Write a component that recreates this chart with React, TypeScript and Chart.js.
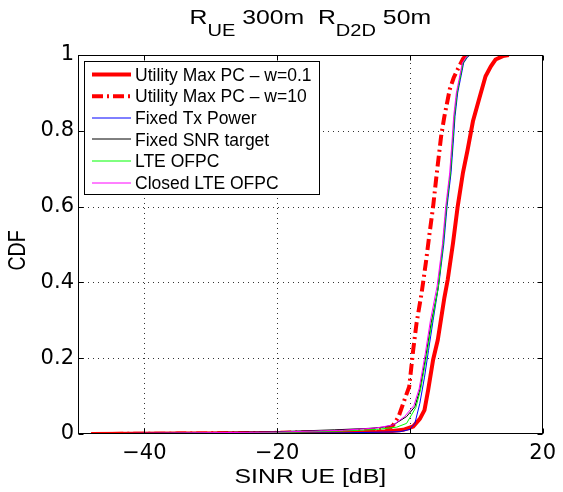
import React, { useEffect, useRef } from 'react';
import { Chart, registerables } from 'chart.js';

Chart.register(...registerables);

// ---------- data ----------
const xTickValues = [-40, -20, 0, 20];
const yTickValues = [0, 0.2, 0.4, 0.6, 0.8, 1];

const seriesLabels = [
  'Utility Max PC \u2013 w=0.1',
  'Utility Max PC \u2013 w=10',
  'Fixed Tx Power',
  'Fixed SNR target',
  'LTE OFPC',
  'Closed LTE OFPC',
];

const sinrUtilW01 = [-48, -35, -20, -10, -5, -3, -1, 0.5, 1.5, 2.2, 2.75, 3.5, 4.2, 5.2, 5.7, 6.5, 7.2, 8.0, 8.7, 9.5, 10.4, 11.4, 12.2, 12.9, 14.0, 14.9];
const cdfUtilW01 = [0, 0.001, 0.002, 0.003, 0.005, 0.007, 0.011, 0.02, 0.04, 0.063, 0.116, 0.196, 0.248, 0.36, 0.407, 0.504, 0.6, 0.69, 0.75, 0.825, 0.882, 0.944, 0.97, 0.988, 0.997, 1];

const sinrUtilW10 = [-48, -35, -20, -10, -5, -3, -2.5, -1.7, -1.0, -0.1, 0.5, 1.0, 1.75, 2.4, 2.9, 3.5, 4.0, 4.7, 5.2, 6.0, 6.6, 7.2, 8.0, 8.5];
const cdfUtilW10 = [0, 0.001, 0.003, 0.006, 0.01, 0.016, 0.024, 0.046, 0.081, 0.125, 0.222, 0.292, 0.37, 0.451, 0.521, 0.6, 0.68, 0.785, 0.838, 0.909, 0.94, 0.962, 0.99, 1];

const sinrFixedTx = [-50, -35, -20, -10, -4, -1.5, 0, 0.75, 1.5, 2.2, 2.8, 3.5, 4.4, 5.1, 5.6, 6.2, 6.6, 6.8, 7.2, 7.6, 8.1, 8.7, 9.1];
const cdfFixedTx = [0, 0.001, 0.002, 0.003, 0.005, 0.006, 0.012, 0.028, 0.081, 0.15, 0.22, 0.3, 0.4, 0.5, 0.6, 0.689, 0.785, 0.838, 0.9, 0.935, 0.979, 0.995, 1];

const sinrFixedSnr = [-50, -40, -30, -20, -11.4, -6, -4, -2.5, -0.5, 0.75, 1.5, 2.4, 3.2, 4.2, 5.0, 5.5, 6.1, 6.5, 6.7, 7.1, 7.5, 8.0, 8.6, 9.0];
const cdfFixedSnr = [0, 0.002, 0.004, 0.006, 0.011, 0.015, 0.018, 0.024, 0.046, 0.072, 0.116, 0.204, 0.292, 0.38, 0.504, 0.6, 0.689, 0.785, 0.838, 0.9, 0.935, 0.979, 0.995, 1];

const sinrLteOfpc = [-50, -40, -20, -10, -5, -2, -0.5, 0.9, 1.6, 2.5, 3.3, 4.3, 5.0, 5.5, 6.1, 6.5, 6.7, 7.1, 7.5, 8.0, 8.6, 9.0];
const cdfLteOfpc = [0, 0.001, 0.004, 0.008, 0.012, 0.018, 0.028, 0.07, 0.116, 0.204, 0.292, 0.39, 0.5, 0.6, 0.689, 0.785, 0.838, 0.9, 0.935, 0.979, 0.995, 1];

const sinrClosedOfpc = [-50, -40, -20, -10, -5, -2.5, -0.8, 0.6, 1.4, 2.3, 3.1, 4.1, 4.9, 5.4, 6.0, 6.4, 6.6, 7.0, 7.4, 7.9, 8.5, 8.9];
const cdfClosedOfpc = [0, 0.002, 0.005, 0.01, 0.016, 0.024, 0.046, 0.075, 0.12, 0.21, 0.3, 0.39, 0.5, 0.6, 0.689, 0.785, 0.838, 0.9, 0.935, 0.979, 0.995, 1];

// ---------- styling ----------
const STRETCH = 1.18;
const ARIAL = '"Liberation Sans", Arial, sans-serif';

const toPoints = (xs: number[], ys: number[]) => xs.map((x, i) => ({ x, y: ys[i] }));

const seriesStyles = [
  { color: '#ff0000', width: 4, dash: [] as number[] },
  { color: '#ff0000', width: 4, dash: [11, 4, 2, 4] },
  { color: '#0000ff', width: 1, dash: [] as number[] },
  { color: '#000000', width: 1, dash: [] as number[] },
  { color: '#00ff00', width: 1, dash: [] as number[] },
  { color: '#ff00ff', width: 1, dash: [] as number[] },
];

const seriesData = [
  toPoints(sinrUtilW01, cdfUtilW01),
  toPoints(sinrUtilW10, cdfUtilW10),
  toPoints(sinrFixedTx, cdfFixedTx),
  toPoints(sinrFixedSnr, cdfFixedSnr),
  toPoints(sinrLteOfpc, cdfLteOfpc),
  toPoints(sinrClosedOfpc, cdfClosedOfpc),
];

const decorPlugin = {
  id: 'matlabDecor',
  beforeDraw(chart: any) {
    const ctx = chart.ctx;
    ctx.save();
    ctx.fillStyle = '#ffffff';
    ctx.fillRect(0, 0, chart.width, chart.height);
    ctx.restore();
  },
  beforeDatasetsDraw(chart: any) {
    const ctx: CanvasRenderingContext2D = chart.ctx;
    const area = chart.chartArea;
    const xs = chart.scales.x;
    const ys = chart.scales.y;
    ctx.save();
    ctx.strokeStyle = '#333';
    ctx.lineWidth = 1;
    ctx.setLineDash([1, 4]);
    ctx.beginPath();
    xTickValues.forEach((v) => {
      const px = Math.round(xs.getPixelForValue(v)) + 0.5;
      if (px > area.left + 2 && px < area.right - 2) {
        ctx.moveTo(px, area.bottom);
        ctx.lineTo(px, area.top);
      }
    });
    yTickValues.forEach((v) => {
      const py = Math.round(ys.getPixelForValue(v)) + 0.5;
      if (py > area.top + 2 && py < area.bottom - 2) {
        ctx.moveTo(area.left, py);
        ctx.lineTo(area.right, py);
      }
    });
    ctx.stroke();
    ctx.restore();
  },
  afterDraw(chart: any) {
    const ctx: CanvasRenderingContext2D = chart.ctx;
    const area = chart.chartArea;
    const xs = chart.scales.x;
    const ys = chart.scales.y;
    const L = Math.round(area.left) + 0.5;
    const R = Math.round(area.right) - 0.5;
    const T = Math.round(area.top) + 0.5;
    const B = Math.round(area.bottom) - 0.5;

    ctx.save();
    // box
    ctx.strokeStyle = '#000';
    ctx.lineWidth = 1;
    ctx.setLineDash([]);
    ctx.strokeRect(L, T, R - L, B - T);
    // inward ticks
    const tl = 5;
    ctx.beginPath();
    xTickValues.forEach((v) => {
      const px = Math.round(xs.getPixelForValue(v)) + 0.5;
      ctx.moveTo(px, B); ctx.lineTo(px, B - tl);
      ctx.moveTo(px, T); ctx.lineTo(px, T + tl);
    });
    yTickValues.forEach((v) => {
      const py = Math.round(ys.getPixelForValue(v)) + 0.5;
      ctx.moveTo(L, py); ctx.lineTo(L + tl, py);
      ctx.moveTo(R, py); ctx.lineTo(R - tl, py);
    });
    ctx.stroke();

    ctx.fillStyle = '#000';
    const cx = (area.left + area.right) / 2;

    // title with subscripts
    const parts = [
      { text: 'R', size: 21, dy: 0 },
      { text: 'UE', size: 17, dy: 12 },
      { text: ' 300m  R', size: 21, dy: 0 },
      { text: 'D2D', size: 17, dy: 12 },
      { text: ' 50m', size: 21, dy: 0 },
    ];
    let total = 0;
    const widths = parts.map((p) => {
      ctx.font = `${p.size}px ${ARIAL}`;
      const w = ctx.measureText(p.text).width;
      total += w;
      return w;
    });
    ctx.save();
    ctx.translate(cx - (total * STRETCH) / 2, 23.5);
    ctx.scale(STRETCH, 1);
    ctx.textAlign = 'left';
    ctx.textBaseline = 'alphabetic';
    let acc = 0;
    parts.forEach((p, i) => {
      ctx.font = `${p.size}px ${ARIAL}`;
      ctx.fillText(p.text, acc, p.dy);
      acc += widths[i];
    });
    ctx.restore();

    // x axis label
    ctx.save();
    ctx.translate(cx, 483);
    ctx.scale(STRETCH, 1);
    ctx.font = `21px ${ARIAL}`;
    ctx.textAlign = 'center';
    ctx.textBaseline = 'alphabetic';
    ctx.fillText('SINR UE [dB]', 0, 0);
    ctx.restore();

    // y axis label
    ctx.save();
    ctx.translate(25, (area.top + area.bottom) / 2 + 6);
    ctx.scale(STRETCH, 1);
    ctx.rotate(-Math.PI / 2);
    ctx.font = `19.5px ${ARIAL}`;
    ctx.textAlign = 'center';
    ctx.textBaseline = 'alphabetic';
    ctx.fillText('CDF', 0, 0);
    ctx.restore();

    // legend
    const lx = 84.5, ly = 61.5, lw = 235, lh = 133;
    ctx.fillStyle = '#fff';
    ctx.fillRect(lx, ly, lw, lh);
    ctx.strokeStyle = '#000';
    ctx.lineWidth = 1;
    ctx.strokeRect(lx, ly, lw, lh);
    chart.data.datasets.forEach((ds: any, i: number) => {
      const yc = 74.5 + i * 21.65;
      ctx.save();
      ctx.strokeStyle = ds.borderColor;
      ctx.lineWidth = ds.borderWidth;
      ctx.setLineDash(ds.borderDash || []);
      ctx.beginPath();
      const yl = ds.borderWidth > 1 ? yc : Math.round(yc);
      ctx.moveTo(92, yl);
      ctx.lineTo(131, yl);
      ctx.stroke();
      ctx.restore();
      ctx.fillStyle = '#000';
      ctx.font = `17.5px ${ARIAL}`;
      ctx.textAlign = 'left';
      ctx.textBaseline = 'alphabetic';
      ctx.fillText(ds.label, 135, yc + 6.3);
    });
    ctx.restore();
  },
};

export default function App() {
  const canvasRef = useRef<HTMLCanvasElement | null>(null);

  useEffect(() => {
    const canvas = canvasRef.current;
    if (!canvas) return;
    const datasets = seriesData.map((data, i) => ({
      label: seriesLabels[i],
      data,
      borderColor: seriesStyles[i].color,
      backgroundColor: seriesStyles[i].color,
      borderWidth: seriesStyles[i].width,
      borderDash: seriesStyles[i].dash,
      pointRadius: 0,
      tension: 0,
      fill: false,
      order: 10 - i,
    }));

    const tickFont = { family: '"DejaVu Sans", sans-serif', size: 21 };

    const chart = new Chart(canvas, {
      type: 'line',
      data: { datasets },
      options: {
        animation: false,
        responsive: true,
        maintainAspectRatio: false,
        devicePixelRatio: 1,
        layout: { padding: { left: 0, top: 55, right: 16, bottom: 0 } },
        plugins: {
          legend: { display: false },
          title: { display: false },
          tooltip: { enabled: false },
        },
        scales: {
          x: {
            type: 'linear',
            min: -50,
            max: 20,
            afterFit: (scale: any) => { scale.height = 58; },
            afterBuildTicks: (scale: any) => { scale.ticks = xTickValues.map((v) => ({ value: v })); },
            grid: { display: false, drawTicks: false },
            border: { display: false },
            ticks: {
              color: '#000',
              font: tickFont,
              padding: 7,
              maxRotation: 0,
              autoSkip: false,
              callback: (v: any) => String(v).replace('-', '\u2212'),
            },
          },
          y: {
            type: 'linear',
            min: 0,
            max: 1,
            afterFit: (scale: any) => { scale.width = 78; },
            afterBuildTicks: (scale: any) => { scale.ticks = yTickValues.map((v) => ({ value: v })); },
            grid: { display: false, drawTicks: false },
            border: { display: false },
            ticks: {
              color: '#000',
              font: tickFont,
              padding: 4,
              autoSkip: false,
              callback: (v: any) => String(Math.round(Number(v) * 10) / 10),
            },
          },
        },
      } as any,
      plugins: [decorPlugin],
    });
    return () => chart.destroy();
  }, []);

  return (
    <div style={{ position: 'absolute', left: 0, top: 0, width: 563, height: 492, background: '#fff' }}>
      <canvas ref={canvasRef} />
    </div>
  );
}
